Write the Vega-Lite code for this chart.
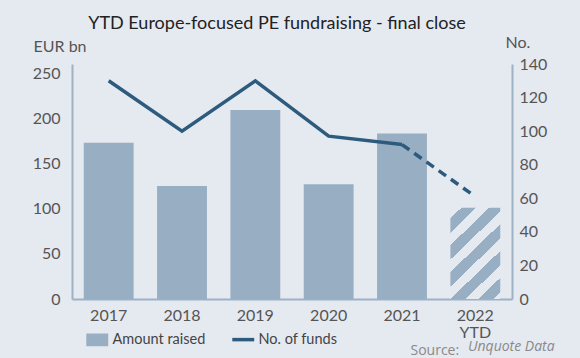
{
  "$schema": "https://vega.github.io/schema/vega-lite/v6.json",
  "width": 440,
  "height": 235,
  "autosize": {"type": "none"},
  "padding": {"left": 72, "top": 64, "right": 68, "bottom": 59},
  "background": "#e5e9f0",
  "config": {
    "font": "Lato",
    "view": {"stroke": null},
    "axis": {
      "grid": false,
      "ticks": false,
      "domainColor": "#9db2c4",
      "domainWidth": 2,
      "labelFontSize": 16,
      "labelColor": "#555555",
      "labelFont": "Lato",
      "labelOverlap": false,
      "titleFont": "Lato",
      "titleFontSize": 16,
      "titleFontWeight": "normal",
      "titleColor": "#555555"
    }
  },
  "title": {
    "text": "YTD Europe-focused PE fundraising - final close",
    "fontSize": 18,
    "fontWeight": "normal",
    "font": "Lato",
    "color": "#222222",
    "anchor": "middle",
    "dx": -15,
    "dy": 3
  },
  "data": {
    "values": [
      {"year": "2017", "amount": 173, "funds": 130},
      {"year": "2018", "amount": 125, "funds": 100},
      {"year": "2019", "amount": 209, "funds": 130},
      {"year": "2020", "amount": 127, "funds": 97},
      {"year": "2021", "amount": 183, "funds": 92},
      {"year": "2022 YTD", "amount": 101, "funds": 61}
    ]
  },
  "encoding": {
    "x": {
      "field": "year",
      "type": "nominal",
      "scale": {
        "domain": ["2017", "2018", "2019", "2020", "2021", "2022 YTD"],
        "paddingInner": 0.32,
        "paddingOuter": 0.16
      },
      "axis": {
        "labelAngle": 0,
        "labelPadding": 8,
        "labelLineHeight": 17,
        "labelExpr": "datum.label == '2022 YTD' ? ['2022', 'YTD'] : datum.label",
        "title": "Source:",
        "titleFont": "Open Sans",
        "titleFontSize": 14,
        "titleColor": "#8a8a8a",
        "titleAlign": "left",
        "titleBaseline": "alphabetic",
        "titleX": 338,
        "titleY": 55
      }
    }
  },
  "layer": [
    {
      "layer": [
        {
          "transform": [{"filter": "datum.year != '2022 YTD'"}],
          "mark": {"type": "bar"},
          "encoding": {
            "y": {
              "field": "amount",
              "type": "quantitative",
              "scale": {"domain": [0, 250]},
              "axis": {
                "values": [0, 50, 100, 150, 200, 250],
                "labelOverlap": false,
                "labelPadding": 12,
                "title": "EUR bn",
                "titleAngle": 0,
                "titleAlign": "left",
                "titleBaseline": "alphabetic",
                "titleX": -39,
                "titleY": -13
              }
            },
            "color": {
              "datum": "Amount raised",
              "type": "nominal",
              "scale": {
                "domain": ["Amount raised", "No. of funds"],
                "range": ["#98aec2", "#2d5b7e"]
              },
              "legend": {
                "orient": "none",
                "legendX": 18,
                "legendY": 268,
                "direction": "horizontal",
                "columnPadding": 19,
                "labelFontSize": 14.5,
                "labelColor": "#444444",
                "labelFont": "Lato",
                "labelOffset": 8,
                "symbolSize": 480,
                "title": ["", "Unquote Data"],
                "titleLineHeight": 12,
                "titleOrient": "right",
                "titleAnchor": "end",
                "titleBaseline": "middle",
                "titlePadding": 131,
                "titleFont": "Open Sans",
                "titleFontStyle": "italic",
                "titleFontWeight": "normal",
                "titleFontSize": 14,
                "titleColor": "#8a8a8a",
                "encode": {
                  "symbols": {
                    "update": {
                      "shape": {"signal": "datum.value === 'Amount raised' ? 'M-1,-0.58H1V0.58H-1Z' : 'stroke'"},
                      "fill": {"signal": "datum.value === 'Amount raised' ? '#98aec2' : 'transparent'"},
                      "stroke": {"signal": "datum.value === 'Amount raised' ? 'transparent' : '#2d5b7e'"},
                      "strokeWidth": {"signal": "datum.value === 'Amount raised' ? 0 : 3.5"},
                      "opacity": {"value": 1}
                    }
                  }
                }
              }
            }
          }
        },
        {
          "transform": [{"filter": "datum.year == '2022 YTD'"}],
          "mark": {
            "type": "bar",
            "fill": {
              "gradient": "linear",
              "x1": 0, "y1": 0, "x2": 0.629, "y2": 1.195,
              "stops": [
                {"offset": 0, "color": "#e5e9f0"},
                {"offset": 0.076, "color": "#e5e9f0"},
                {"offset": 0.076, "color": "#98aec2"},
                {"offset": 0.179, "color": "#98aec2"},
                {"offset": 0.179, "color": "#e5e9f0"},
                {"offset": 0.269, "color": "#e5e9f0"},
                {"offset": 0.269, "color": "#98aec2"},
                {"offset": 0.372, "color": "#98aec2"},
                {"offset": 0.372, "color": "#e5e9f0"},
                {"offset": 0.462, "color": "#e5e9f0"},
                {"offset": 0.462, "color": "#98aec2"},
                {"offset": 0.566, "color": "#98aec2"},
                {"offset": 0.566, "color": "#e5e9f0"},
                {"offset": 0.655, "color": "#e5e9f0"},
                {"offset": 0.655, "color": "#98aec2"},
                {"offset": 0.759, "color": "#98aec2"},
                {"offset": 0.759, "color": "#e5e9f0"},
                {"offset": 0.848, "color": "#e5e9f0"},
                {"offset": 0.848, "color": "#98aec2"},
                {"offset": 0.952, "color": "#98aec2"},
                {"offset": 0.952, "color": "#e5e9f0"},
                {"offset": 1, "color": "#e5e9f0"}
              ]
            }
          },
          "encoding": {
            "y": {"field": "amount", "type": "quantitative"}
          }
        }
      ]
    },
    {
      "layer": [
        {
          "transform": [{"filter": "datum.year != '2022 YTD'"}],
          "mark": {"type": "line", "strokeWidth": 3.5},
          "encoding": {
            "y": {
              "field": "funds",
              "type": "quantitative",
              "scale": {"domain": [0, 140]},
              "axis": {
                "orient": "right",
                "values": [0, 20, 40, 60, 80, 100, 120, 140],
                "labelOverlap": false,
                "labelPadding": 7,
                "title": "No.",
                "titleAngle": 0,
                "titleAlign": "left",
                "titleBaseline": "alphabetic",
                "titleX": -7,
                "titleY": -17
              }
            },
            "color": {"datum": "No. of funds", "type": "nominal"}
          }
        },
        {
          "transform": [{"filter": "datum.year == '2021' || datum.year == '2022 YTD'"}],
          "mark": {"type": "line", "strokeWidth": 3.5, "strokeDash": [9, 6]},
          "encoding": {
            "y": {
              "field": "funds",
              "type": "quantitative",
              "axis": {
                "orient": "right",
                "values": [0, 20, 40, 60, 80, 100, 120, 140],
                "labelOverlap": false,
                "labelPadding": 7,
                "title": "No.",
                "titleAngle": 0,
                "titleAlign": "left",
                "titleBaseline": "alphabetic",
                "titleX": -7,
                "titleY": -17
              }
            },
            "color": {"datum": "No. of funds", "type": "nominal"}
          }
        }
      ]
    }
  ],
  "resolve": {"scale": {"y": "independent"}}
}
